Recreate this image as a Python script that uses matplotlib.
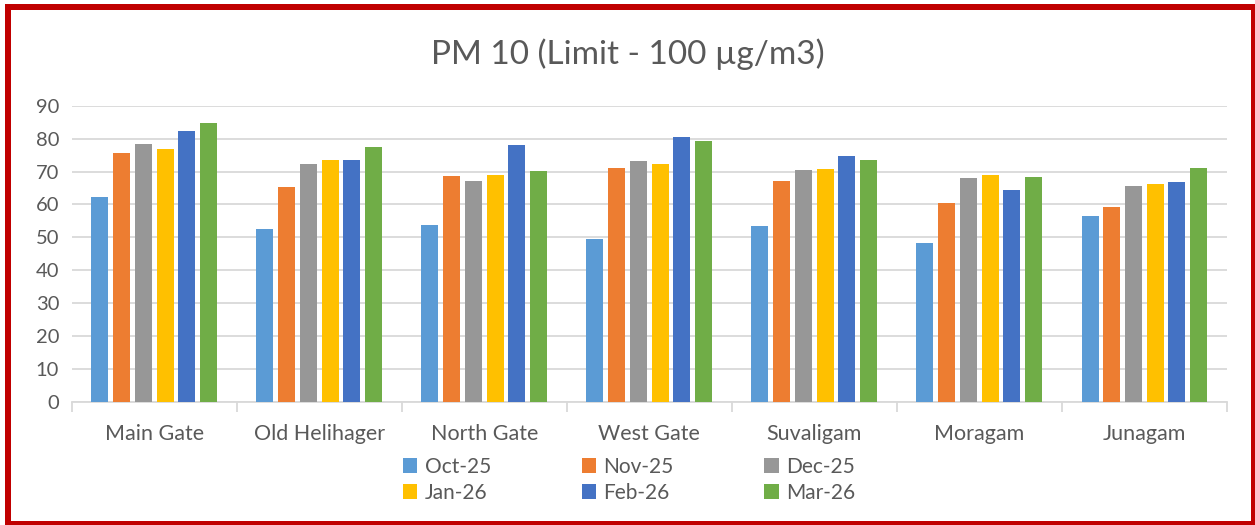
import numpy as np
import matplotlib
matplotlib.use('Agg')
import matplotlib.pyplot as plt
from matplotlib.patches import Rectangle, Patch

plt.rcParams['font.family'] = ['Lato', 'DejaVu Sans']

# ---- data ----
sites = ['Main Gate', 'Old Helihager', 'North Gate', 'West Gate',
         'Suvaligam', 'Moragam', 'Junagam']
months = ['Oct-25', 'Nov-25', 'Dec-25', 'Jan-26', 'Feb-26', 'Mar-26']

oct25 = [62.3, 52.4, 53.9, 49.4, 53.4, 48.2, 56.6]
nov25 = [75.7, 65.3, 68.5, 71.2, 67.2, 60.5, 59.3]
dec25 = [78.4, 72.2, 67.2, 73.3, 70.4, 68.0, 65.5]
jan26 = [76.9, 73.5, 68.8, 72.4, 70.8, 68.9, 66.3]
feb26 = [82.3, 73.5, 78.1, 80.5, 74.6, 64.5, 66.8]
mar26 = [84.6, 77.5, 70.2, 79.3, 73.4, 68.3, 71.2]

series = [oct25, nov25, dec25, jan26, feb26, mar26]
colors = ['#5B9BD5', '#ED7D31', '#979797', '#FFC000', '#4472C4', '#70AD47']

txt = '#595959'
W, H = 1255, 525

fig = plt.figure(figsize=(12.55, 5.25), dpi=100)
ax = fig.add_axes([0.0571, 0.2343, 0.9204, 0.5644])

x = np.arange(len(sites))
step = 0.1315
width = 0.103
handles = []
for i, (vals, c) in enumerate(zip(series, colors)):
    off = (i - 2.5) * step
    ax.bar(x + off, vals, width=width, color=c, zorder=3)
    handles.append(Patch(facecolor=c, edgecolor='none'))

ax.set_xlim(-0.5, len(sites) - 0.5)
ax.set_ylim(0, 90)
ax.set_yticks(np.arange(0, 91, 10))
ax.yaxis.grid(True, color='#D9D9D9', linewidth=1.3, zorder=0)
ax.set_axisbelow(True)

ax.set_xticks(x)
ax.set_xticklabels(sites, fontsize=15.5, color=txt)
ax.tick_params(axis='x', which='major', length=0, pad=16)
ax.set_xticks(np.arange(-0.5, len(sites), 1), minor=True)
ax.tick_params(axis='x', which='minor', length=7, width=1.3, color='#D9D9D9')
ax.tick_params(axis='y', length=0, labelsize=14.5, labelcolor=txt, pad=9)

for s in ['left', 'right', 'top']:
    ax.spines[s].set_visible(False)
ax.spines['bottom'].set_color('#D9D9D9')
ax.spines['bottom'].set_linewidth(1.3)

fig.text(0.5, 0.897, 'PM 10 (Limit - 100 µg/m3)', ha='center', va='center',
         fontsize=24, color=txt)

# legend in row order: Oct, Nov, Dec / Jan, Feb, Mar
order = [0, 3, 1, 4, 2, 5]
fig.legend([handles[k] for k in order], [months[k] for k in order],
           ncol=3, loc='center', bbox_to_anchor=(0.5012, 0.086), frameon=False,
           fontsize=15, labelcolor=txt, handlelength=0.7, handleheight=0.7,
           handletextpad=0.35, columnspacing=4.35, labelspacing=0.3)

# red frame (thicker on left/top, as in the reference)
frame = [(5, 4, 6, H - 4), (5, 4, W - 5, 6),
         (W - 4, 4, 4, H - 4), (5, H - 4, W - 5, 4)]
for fx, fy, fw, fh in frame:
    fig.patches.append(Rectangle((fx / W, 1 - (fy + fh) / H), fw / W, fh / H,
                                 transform=fig.transFigure, facecolor='#C00000',
                                 edgecolor='none'))

fig.savefig('out.png', dpi=100, facecolor='white')
